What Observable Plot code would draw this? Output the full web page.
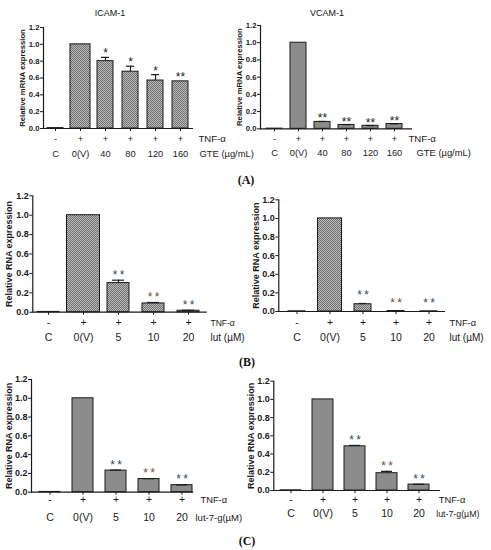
<!DOCTYPE html>
<html>
<head>
<meta charset="utf-8">
<script src="https://cdn.jsdelivr.net/npm/d3@7"></script>
<script src="https://cdn.jsdelivr.net/npm/@observablehq/plot@0.6"></script>
<style>
  body { margin: 0; background: #fff; }
  #page { position: relative; width: 491px; height: 550px; overflow: hidden; font-family: "Liberation Sans", Arial, sans-serif; color: #111; }
  .lbl { position: absolute; transform: translate(-50%, -50%); white-space: nowrap; line-height: 1; }
  .panel-title { font-size: 9px; }
  .panel-tag { font-family: "Liberation Serif", "Times New Roman", serif; font-weight: bold; font-size: 12px; }
</style>
</head>
<body>
<div id="page"></div>
<script>
// ---------------- data ----------------
const yTicks = [0, 0.2, 0.4, 0.6, 0.8, 1.0, 1.2];
const tnfLabel = "TNF-\u03b1";

// (A) green tea extract
const gteDoses = ["C", "0(V)", "40", "80", "120", "160"];
const gteTnf = ["-", "+", "+", "+", "+", "+"];
const gteUnit = "GTE (\u00b5g/mL)";
const icamGteValues = [0.005, 1.0, 0.80, 0.675, 0.57, 0.56];
const icamGteErrors = [0, 0, 0.045, 0.065, 0.07, 0];
const icamGteStars = ["", "", "*", "*", "*", "**"];
const vcamGteValues = [0.002, 1.0, 0.08, 0.045, 0.035, 0.055];
const vcamGteErrors = [0, 0, 0.005, 0.003, 0.003, 0.003];
const vcamGteStars = ["", "", "**", "**", "**", "**"];

// (B) luteolin
const lutDoses = ["C", "0(V)", "5", "10", "20"];
const lutTnf = ["-", "+", "+", "+", "+"];
const lutUnit = "lut (\u00b5M)";
const icamLutValues = [0.003, 1.0, 0.30, 0.09, 0.015];
const icamLutErrors = [0, 0, 0.03, 0.01, 0.005];
const vcamLutValues = [0.002, 1.0, 0.078, 0.005, 0.002];
const vcamLutErrors = [0, 0, 0.008, 0.002, 0];
const lutStars = ["", "", "**", "**", "**"];

// (C) luteolin-7-glucoside
const lut7gDoses = ["C", "0(V)", "5", "10", "20"];
const lut7gTnf = ["-", "+", "+", "+", "+"];
const lut7gUnit = "lut-7-g(\u00b5M)";
const icamLut7gValues = [0.003, 1.0, 0.23, 0.14, 0.075];
const icamLut7gErrors = [0, 0, 0.005, 0.004, 0.002];
const vcamLut7gValues = [0.002, 1.0, 0.485, 0.19, 0.065];
const vcamLut7gErrors = [0, 0, 0.01, 0.02, 0.003];
const lut7gStars = ["", "", "**", "**", "**"];

const panelTitles = ["ICAM-1", "VCAM-1"];
const panelTags = ["(A)", "(B)", "(C)"];
const mrnaTitle = "Relative mRNA expression";
const rnaTitle = "Relative RNA expression";

// ---------------- styles ----------------
const INK = "#1a1a1a";
const SOLID = "#8c8c8c";
const STAR_BLUE = "#34496a";
const STAR_BROWN = "#7a4a26";
const STAR_COLORS = {"5": STAR_BLUE, "10": STAR_BROWN, "20": STAR_BLUE};

const page = document.getElementById("page");

function drawPanel(cfg) {
  const [bx, by, bw, bh] = cfg.box;
  const [x0, x1, yTop, yBot] = cfg.frame;
  const rows = cfg.doses.map((dose, i) => ({
    dose, tnf: cfg.tnf[i], value: cfg.values[i], err: cfg.errors[i], star: cfg.stars[i]
  }));
  const errRows = rows.filter(d => d.err > 0);
  const starRows = rows.filter(d => d.star);
  const fill = cfg.pattern ? `url(#pat-${cfg.id})` : SOLID;
  const starText = cfg.spaced ? (d => d.star.split("").join("\u2009")) : "star";
  const starFill = cfg.spaced ? (d => STAR_COLORS[d.dose]) : INK;

  const svg = Plot.plot({
    width: bw,
    height: bh,
    marginLeft: x0 - bx,
    marginRight: bx + bw - x1,
    marginTop: yTop - by,
    marginBottom: by + bh - yBot,
    style: {
      fontFamily: "'Liberation Sans', Arial, sans-serif",
      fontSize: "10px",
      background: "transparent",
      overflow: "visible",
      color: INK
    },
    x: {type: "band", domain: cfg.doses, paddingInner: cfg.band[0], paddingOuter: cfg.band[1], align: cfg.band[2]},
    y: {domain: [0, 1.2]},
    color: {type: "identity"},
    marks: [
      Plot.barY(rows.filter(d => d.dose !== "0(V)"), {x: "dose", y: "value", fill, stroke: INK, strokeWidth: 1}),
      Plot.barY(rows.filter(d => d.dose === "0(V)"), {
        x: "dose", y: "value", fill, stroke: INK, strokeWidth: 1,
        insetLeft: cfg.vInset, insetRight: cfg.vInset
      }),
      Plot.ruleX(errRows, {x: "dose", y1: "value", y2: d => d.value + d.err, stroke: INK, strokeWidth: 1.2}),
      Plot.tickY(errRows, {x: "dose", y: d => d.value + d.err, inset: cfg.capInset, stroke: INK, strokeWidth: 1.2}),
      Plot.text(starRows, {
        x: "dose", y: d => d.value + d.err, text: starText, lineAnchor: "bottom",
        dy: cfg.starDy, fontSize: cfg.starFs, fill: starFill
      }),
      Plot.frame({anchor: "left", stroke: INK, strokeWidth: 1.2}),
      Plot.ruleY([0], {stroke: INK, strokeWidth: 1.2}),
      Plot.axisY({
        ticks: yTicks, tickFormat: d3.format(".1f"), tickSize: 3, tickPadding: 1,
        fontSize: cfg.tickFs, fontWeight: "bold", label: null, stroke: INK, fill: INK
      }),
      Plot.axisX({tickSize: 3, tickFormat: () => "", label: null, stroke: INK}),
      Plot.text([cfg.yTitle], {
        text: d => d, frameAnchor: "left", textAnchor: "middle", lineAnchor: "middle",
        rotate: -90, dx: cfg.yTitleX - x0,
        fontSize: cfg.titleFs, fontWeight: "bold", fill: INK
      }),
      Plot.text(rows, {x: "dose", text: "tnf", frameAnchor: "bottom", dy: cfg.rowY[0] - yBot, fontSize: cfg.rowFs, fill: INK}),
      Plot.text(rows, {x: "dose", text: "dose", frameAnchor: "bottom", dy: cfg.rowY[1] - yBot, fontSize: cfg.rowFs, fill: INK}),
      Plot.text([tnfLabel], {
        text: d => d, frameAnchor: "bottom-right", textAnchor: "start",
        dx: cfg.rightX[0] - x1, dy: cfg.rowY[0] - yBot, fontSize: cfg.tnfFs, fill: INK
      }),
      Plot.text([cfg.unit], {
        text: d => d, frameAnchor: "bottom-right", textAnchor: "start",
        dx: cfg.rightX[1] - x1, dy: cfg.rowY[1] - yBot, fontSize: cfg.unitFs, fill: INK
      })
    ]
  });

  if (cfg.pattern) {
    const defs = d3.select(svg).insert("defs", ":first-child");
    const p = defs.append("pattern")
      .attr("id", `pat-${cfg.id}`)
      .attr("width", 2).attr("height", 2)
      .attr("patternUnits", "userSpaceOnUse");
    p.append("rect").attr("width", 2).attr("height", 2).attr("fill", "#bdbdbd");
    p.append("rect").attr("width", 1).attr("height", 1).attr("fill", "#6e6e6e");
    p.append("rect").attr("x", 1).attr("y", 1).attr("width", 1).attr("height", 1).attr("fill", "#6e6e6e");
  }

  svg.style.position = "absolute";
  svg.style.left = bx + "px";
  svg.style.top = by + "px";
  page.appendChild(svg);
}

const smallA = {tickFs: 7.7, titleFs: 7.7, rowFs: 9.3, tnfFs: 9.6, unitFs: 9.4, starFs: 12, starDy: 0, capInset: 4, spaced: false};
const bigBC = {tickFs: 9, titleFs: 9, rowFs: 10.5, tnfFs: 9.3, unitFs: 10, starFs: 12, starDy: -1.5, capInset: 5, spaced: true};

// (A) left: ICAM-1 / GTE
drawPanel({...smallA, id: "a1", box: [0, 0, 245, 175], frame: [43, 193, 27, 128],
  band: [0.34, 0.17, 0.5], doses: gteDoses, tnf: gteTnf, values: icamGteValues, errors: icamGteErrors,
  stars: icamGteStars, pattern: true, vInset: -2, yTitle: mrnaTitle, yTitleX: 22,
  rowY: [141.7, 156.7], rightX: [198, 199], unit: gteUnit});

// (A) right: VCAM-1 / GTE
drawPanel({...smallA, id: "a2", box: [245, 0, 246, 175], frame: [260, 412, 25, 128.3],
  band: [0.35, 0.2985, 0.366], doses: gteDoses, tnf: gteTnf, values: vcamGteValues, errors: vcamGteErrors,
  stars: vcamGteStars, pattern: false, vInset: 0, yTitle: mrnaTitle, yTitleX: 239,
  rowY: [141.7, 155], rightX: [408, 416], unit: gteUnit, starDy: 1});

// (B) left: luteolin
drawPanel({...bigBC, id: "b1", box: [0, 175, 245, 185], frame: [32.3, 206.7, 195.3, 311.7],
  band: [0.376, 0.162, 0.41], doses: lutDoses, tnf: lutTnf, values: icamLutValues, errors: icamLutErrors,
  stars: lutStars, pattern: true, vInset: -5.5, yTitle: rnaTitle, yTitleX: 9,
  rowY: [325, 340], rightX: [210, 210], unit: lutUnit, tnfFs: 8.5});

// (B) right: luteolin
drawPanel({...bigBC, id: "b2", box: [245, 175, 246, 185], frame: [278.3, 445, 199.3, 311],
  band: [0.495, 0.221, 0.55], doses: lutDoses, tnf: lutTnf, values: vcamLutValues, errors: vcamLutErrors,
  stars: lutStars, pattern: true, vInset: -3.5, yTitle: rnaTitle, yTitleX: 256,
  rowY: [325, 340], rightX: [449, 449], unit: lutUnit, starDy: -4});

// (C) left: luteolin-7-glucoside
drawPanel({...bigBC, id: "c1", box: [0, 360, 245, 190], frame: [31, 193.3, 379, 491.7],
  band: [0.356, 0.108, 0.91], doses: lut7gDoses, tnf: lut7gTnf, values: icamLut7gValues, errors: icamLut7gErrors,
  stars: lut7gStars, pattern: false, vInset: 0, yTitle: rnaTitle, yTitleX: 9,
  rowY: [502.7, 520.7], rightX: [200, 195], unit: lut7gUnit, unitFs: 9.5});

// (C) right: luteolin-7-glucoside
drawPanel({...bigBC, id: "c2", box: [245, 360, 246, 190], frame: [273.3, 440, 380.7, 490],
  band: [0.346, 0.27, 0.36], doses: lut7gDoses, tnf: lut7gTnf, values: vcamLut7gValues, errors: vcamLut7gErrors,
  stars: lut7gStars, pattern: false, vInset: 0, yTitle: rnaTitle, yTitleX: 250.5,
  rowY: [502.7, 516], rightX: [438.3, 435.7], unit: lut7gUnit, unitFs: 8.8});

// titles and panel tags
function addLabel(text, cls, x, y) {
  const el = document.createElement("div");
  el.className = "lbl " + cls;
  el.textContent = text;
  el.style.left = x + "px";
  el.style.top = y + "px";
  page.appendChild(el);
}
addLabel(panelTitles[0], "panel-title", 110, 13);
addLabel(panelTitles[1], "panel-title", 327, 13);
addLabel(panelTags[0], "panel-tag", 246, 180);
addLabel(panelTags[1], "panel-tag", 247, 362);
addLabel(panelTags[2], "panel-tag", 247, 541);
</script>
</body>
</html>
